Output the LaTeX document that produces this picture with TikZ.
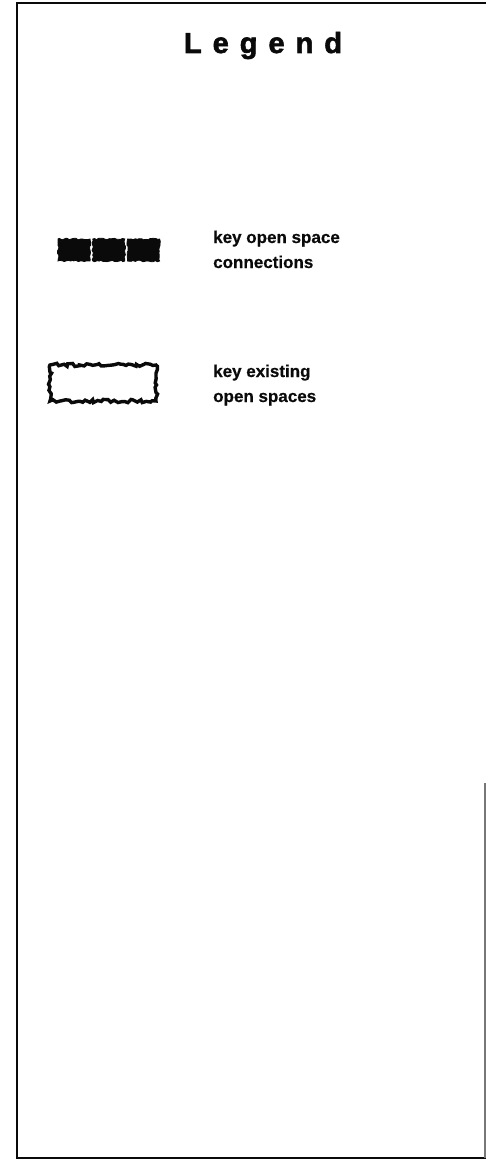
\documentclass[tikz,border=0pt]{standalone}
\usepackage{fontspec}
\setmainfont{Liberation Sans}
\usepackage{xcolor}
\definecolor{legInk}{RGB}{10, 10, 10}
\definecolor{legEdge}{RGB}{120, 120, 120}
\usepackage{tikz}
\usetikzlibrary{
    positioning,
    decorations.pathmorphing
}

\begin{document}
\begin{tikzpicture}[
    x=1pt, y=-1pt,
    legFrame/.style={
        draw=legInk, line width=1.6pt
    },
    legTitle/.style={
        font=\fontsize{29}{32}\selectfont\bfseries\addfontfeature{FakeBold=2},
        text=legInk, inner sep=0pt
    },
    legText/.style={
        font=\fontsize{17}{25}\selectfont\bfseries\addfontfeature{FakeBold=0.6},
        text=legInk, align=left, inner sep=0pt
    },
    keyBlock/.style={
        rectangle,
        draw=legInk, fill=legInk, line width=0.8pt,
        minimum width=32pt, minimum height=22pt, inner sep=0pt,
        decorate, decoration={random steps, segment length=2pt, amplitude=0.8pt}
    },
    keySpace/.style={
        rectangle,
        draw=legInk, fill=white, line width=3.4pt,
        minimum width=106pt, minimum height=36pt, inner sep=0pt,
        decorate, decoration={random steps, segment length=3pt, amplitude=1.7pt}
    }
]

    \useasboundingbox (0,0) rectangle (486,1161);

    % Frame
    \draw[legFrame] (486,3) -- (17,3) -- (17,1158) -- (486,1158);
    \draw[draw=legEdge, line width=1.2pt] (485,783) -- (485,1158);

    % Title
    \node[legTitle, anchor=base] (title) at (263,53)
        {L\kern11pt e\kern11pt g\kern11pt e\kern11pt n\kern11pt d};

    % Key open space connections
    \node[keyBlock] (blockA) at (74,250) {};
    \node[keyBlock, right=2pt of blockA] (blockB) {};
    \node[keyBlock, right=2pt of blockB] (blockC) {};
    \node[legText, anchor=base west] (connText) at (213,268)
        {key open space\\connections};

    % Key existing open spaces
    \node[keySpace] (spaceBox) at (103,383) {};
    \node[legText, anchor=base west] (spaceText) at (213,402)
        {key existing\\open spaces};

\end{tikzpicture}
\end{document}
